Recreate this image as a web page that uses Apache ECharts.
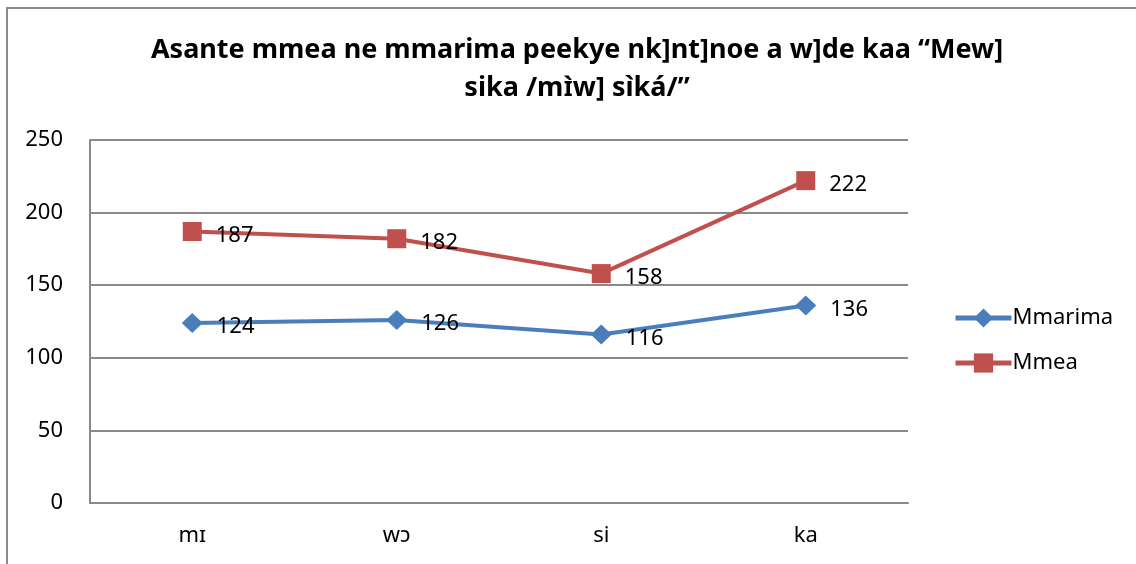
<!DOCTYPE html>
<html>
<head>
<meta charset="utf-8">
<script src="https://cdn.jsdelivr.net/npm/echarts@6/dist/echarts.min.js"></script>
<style>
  html, body { margin: 0; padding: 0; background: #fff; }
  #chart { width: 1136px; height: 564px; }
</style>
</head>
<body>
<div id="chart"></div>
<script>
const categories = ['mɪ', 'wɔ', 'si', 'ka']
const mmarima = [124, 126, 116, 136]
const mmea = [187, 182, 158, 222]
const yTicks = [0, 50, 100, 150, 200, 250]

const font = '"Noto Sans", sans-serif'
const myChart = echarts.init(document.getElementById('chart'))

const labelStyle = {
  show: true,
  position: 'right',
  distance: 14,
  offset: [0, 4],
  color: '#000',
  fontSize: 22,
  fontFamily: font
}

let option = {
  animation: false,
  title: {
    text: 'Asante mmea ne mmarima peekye nk]nt]noe a w]de kaa “Mew]\nsika /mɪ̀w] sìká/”',
    left: 572,
    textAlign: 'center',
    top: 26,
    textStyle: {
      fontFamily: font,
      fontWeight: 'bold',
      fontSize: 27,
      lineHeight: 38,
      color: '#000'
    }
  },
  graphic: [
    {
      // chart frame: only top and left edges fall inside the picture
      type: 'polyline',
      shape: { points: [[7, 600], [7, 8], [1200, 8]] },
      style: { fill: 'none', stroke: '#8a8a8a', lineWidth: 2 },
      silent: true
    }
  ],
  legend: {
    orient: 'vertical',
    left: 948,
    top: 302,
    itemGap: 23,
    itemWidth: 56,
    itemHeight: 24,
    lineStyle: { width: 5 },
    textStyle: { fontFamily: font, fontSize: 22, color: '#000', padding: [0, 0, 0, -4] },
    data: ['Mmarima', 'Mmea']
  },
  grid: {
    left: 90,
    right: 228,
    top: 140,
    bottom: 61
  },
  xAxis: {
    type: 'category',
    data: categories,
    boundaryGap: true,
    axisLine: { lineStyle: { color: '#8a8a8a', width: 2 } },
    axisTick: { show: false },
    axisLabel: {
      color: '#000',
      fontFamily: font,
      fontSize: 22,
      margin: 22
    }
  },
  yAxis: {
    type: 'value',
    min: yTicks[0],
    max: yTicks[yTicks.length - 1],
    interval: 50,
    axisLine: { show: true, lineStyle: { color: '#8a8a8a', width: 2 } },
    axisTick: { show: false },
    splitLine: { lineStyle: { color: '#8a8a8a', width: 2 } },
    axisLabel: {
      color: '#000',
      fontFamily: font,
      fontSize: 22,
      margin: 27
    }
  },
  series: [
    {
      name: 'Mmarima',
      type: 'line',
      data: mmarima,
      symbol: 'diamond',
      symbolSize: [21, 20],
      lineStyle: { color: '#4a7ebb', width: 4 },
      itemStyle: { color: '#4a7ebb' },
      label: labelStyle
    },
    {
      name: 'Mmea',
      type: 'line',
      data: mmea,
      symbol: 'rect',
      symbolSize: 19,
      lineStyle: { color: '#c0504d', width: 4 },
      itemStyle: { color: '#c0504d' },
      label: labelStyle
    }
  ]
}
option && myChart.setOption(option)
</script>
</body>
</html>
